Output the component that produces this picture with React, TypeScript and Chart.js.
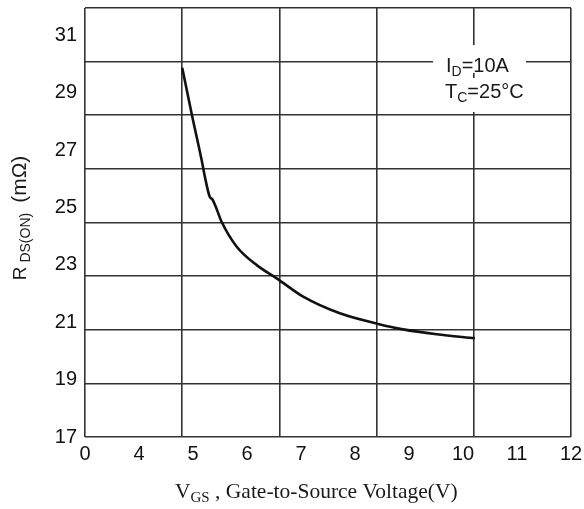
import React, { useEffect, useRef } from 'react';
import { Chart, registerables } from 'chart.js';

Chart.register(...registerables);

// Data (VGS in volts, RDS(ON) in mΩ)
const vgs = [4.8, 4.98, 5.16, 5.22, 5.31, 5.36, 5.41, 5.53, 5.81, 6.18, 6.55, 7.04, 7.72, 8.43, 8.89, 9.51, 10.22];
const rdson = [29.87, 28.22, 26.65, 26.07, 25.37, 25.28, 25.08, 24.5, 23.63, 22.99, 22.53, 21.89, 21.31, 20.94, 20.75, 20.58, 20.44];

// Axis ticks (the "0" label sits at the compressed origin of the axis)
const xTickValues = [3, 4, 5, 6, 7, 8, 9, 10, 11, 12];
const xTickLabels = ['0', '4', '5', '6', '7', '8', '9', '10', '11', '12'];
const yTickValues = [17, 19, 21, 23, 25, 27, 29, 31];
const yTickLabels = ['17', '19', '21', '23', '25', '27', '29', '31'];

const X_MIN = 3;
const X_MAX = 12;
const Y_MIN = 17;
const Y_MAX = 31.95;
const X_GRID_DIVS = 5;
const Y_GRID_DIVS = 8;

const SANS = '"Liberation Sans", Arial, sans-serif';
const SERIF = '"Liberation Serif", "Times New Roman", serif';

type Run = { t: string; size: number; family: string; dy?: number; gap?: number };

function drawRuns(ctx: CanvasRenderingContext2D, runs: Run[], x: number, y: number, align: 'left' | 'center') {
  let total = 0;
  for (const r of runs) {
    ctx.font = `${r.size}px ${r.family}`;
    total += (r.gap || 0) + ctx.measureText(r.t).width;
  }
  let cx = align === 'center' ? x - total / 2 : x;
  ctx.textAlign = 'left';
  ctx.textBaseline = 'alphabetic';
  for (const r of runs) {
    ctx.font = `${r.size}px ${r.family}`;
    cx += r.gap || 0;
    ctx.fillText(r.t, cx, y + (r.dy || 0));
    cx += ctx.measureText(r.t).width;
  }
  return total;
}

const textPlugin = {
  id: 'customTexts',
  afterDraw(chart: any) {
    const ctx: CanvasRenderingContext2D = chart.ctx;
    ctx.save();
    ctx.fillStyle = '#1a1a1a';

    // X axis title
    drawRuns(
      ctx,
      [
        { t: 'V', size: 21.5, family: SERIF },
        { t: 'GS', size: 15, family: SERIF, dy: 4 },
        { t: ' , Gate-to-Source Voltage(V)', size: 21.5, family: SERIF },
      ],
      175,
      498,
      'left'
    );

    // Y axis title (rotated)
    ctx.save();
    ctx.translate(26, 218);
    ctx.rotate(-Math.PI / 2);
    drawRuns(
      ctx,
      [
        { t: 'R', size: 19, family: SANS },
        { t: 'DS(ON)', size: 14, family: SANS, dy: 4, gap: 4 },
        { t: '(mΩ)', size: 21, family: SANS, gap: 10 },
      ],
      0,
      0,
      'center'
    );
    ctx.restore();

    // Annotation with white background boxes
    ctx.fillStyle = '#ffffff';
    ctx.fillRect(433, 45, 93, 28);
    ctx.fillRect(438, 78, 88, 34);
    ctx.fillStyle = '#1a1a1a';
    drawRuns(
      ctx,
      [
        { t: 'I', size: 20, family: SANS },
        { t: 'D', size: 14, family: SANS, dy: 4 },
        { t: '=10A', size: 20, family: SANS },
      ],
      446,
      72,
      'left'
    );
    drawRuns(
      ctx,
      [
        { t: 'T', size: 20, family: SANS },
        { t: 'C', size: 14, family: SANS, dy: 4 },
        { t: '=25°C', size: 20, family: SANS },
      ],
      445,
      98,
      'left'
    );
    ctx.restore();
  },
};

function fixSize(s: any, w: number | null, h: number | null) {
  if (w !== null) s.width = w;
  if (h !== null) s.height = h;
  s.paddingTop = 0;
  s.paddingBottom = 0;
  s.paddingLeft = 0;
  s.paddingRight = 0;
}

export default function App() {
  const canvasRef = useRef<HTMLCanvasElement | null>(null);

  useEffect(() => {
    const canvas = canvasRef.current;
    if (!canvas) return;
    const gridColor = '#333333';
    const chart = new Chart(canvas, {
      type: 'line',
      data: {
        datasets: [
          {
            data: vgs.map((x, i) => ({ x, y: rdson[i] })),
            borderColor: '#111111',
            borderWidth: 2.6,
            pointRadius: 0,
            fill: false,
            cubicInterpolationMode: 'monotone',
            xAxisID: 'x',
            yAxisID: 'y',
          },
        ],
      },
      options: {
        animation: false,
        responsive: false,
        devicePixelRatio: 1,
        layout: { padding: { top: 8, right: 13, left: 0, bottom: 0 } },
        plugins: { legend: { display: false }, tooltip: { enabled: false } },
        scales: {
          x: {
            type: 'linear',
            position: 'bottom',
            min: X_MIN,
            max: X_MAX,
            afterBuildTicks: (axis: any) => {
              axis.ticks = xTickValues.map((v) => ({ value: v }));
            },
            afterFit: (s: any) => fixSize(s, null, 72),
            ticks: {
              callback: (_v: any, i: number) => xTickLabels[i],
              autoSkip: false,
              maxRotation: 0,
              minRotation: 0,
              padding: 5,
              color: '#111111',
              font: { family: SANS, size: 20 },
            },
            grid: { display: false, drawTicks: false },
            border: { display: false },
          },
          y: {
            type: 'linear',
            position: 'left',
            min: Y_MIN,
            max: Y_MAX,
            afterBuildTicks: (axis: any) => {
              axis.ticks = yTickValues.map((v) => ({ value: v }));
            },
            afterFit: (s: any) => fixSize(s, 85, null),
            ticks: {
              callback: (_v: any, i: number) => yTickLabels[i],
              autoSkip: false,
              padding: 8,
              color: '#111111',
              font: { family: SANS, size: 20 },
            },
            grid: { display: false, drawTicks: false },
            border: { display: false },
          },
          xg: {
            type: 'linear',
            position: 'bottom',
            min: 0,
            max: X_GRID_DIVS,
            afterFit: (s: any) => fixSize(s, null, 0),
            ticks: { display: false, stepSize: 1 },
            grid: { color: gridColor, lineWidth: 1.6, drawTicks: false },
            border: { display: false },
          },
          yg: {
            type: 'linear',
            position: 'left',
            min: 0,
            max: Y_GRID_DIVS,
            afterFit: (s: any) => fixSize(s, 0, null),
            ticks: { display: false, stepSize: 1 },
            grid: { color: gridColor, lineWidth: 1.6, drawTicks: false },
            border: { display: false },
          },
        },
      },
      plugins: [textPlugin],
    } as any);
    return () => chart.destroy();
  }, []);

  return (
    <div style={{ position: 'fixed', left: 0, top: 0, width: 584, height: 509, background: '#ffffff' }}>
      <canvas ref={canvasRef} width={584} height={509} style={{ display: 'block', width: 584, height: 509 }} />
    </div>
  );
}
